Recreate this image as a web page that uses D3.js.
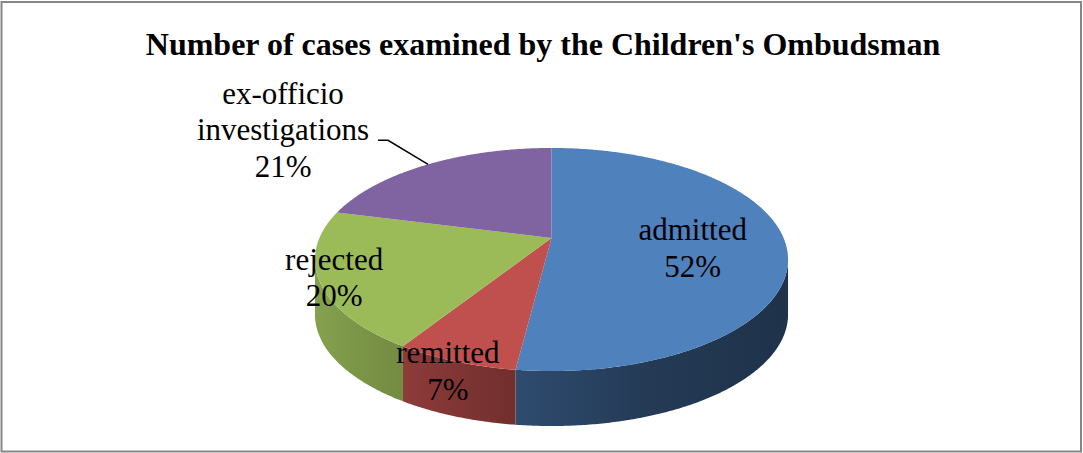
<!DOCTYPE html>
<html>
<head>
<meta charset="utf-8">
<script src="https://cdn.jsdelivr.net/npm/d3@7"></script>
<style>
  html, body { margin: 0; padding: 0; background: #fff; }
  svg { display: block; }
</style>
</head>
<body>
<svg id="chart" width="1083" height="453"></svg>
<script>
// ---- data ----
const title = "Number of cases examined by the Children's Ombudsman";
const categories = ["admitted", "remitted", "rejected", "ex-officio investigations"];
const values = [52, 7, 20, 21];
const labelNames = [["admitted"], ["remitted"], ["rejected"], ["ex-officio", "investigations"]];
const colors = ["#4f81bd", "#c0504d", "#9bbb59", "#8064a2"];

// ---- layout ----
const W = 1083, H = 453;
const svg = d3.select("#chart");
const serif = "'Times New Roman', 'Liberation Serif', serif";

svg.append("rect")
  .attr("x", 1.5).attr("y", 2).attr("width", W - 3.5).attr("height", H - 3.5)
  .attr("fill", "#fff").attr("stroke", "#868686").attr("stroke-width", 2);

svg.append("text")
  .attr("x", 543).attr("y", 55)
  .attr("text-anchor", "middle")
  .attr("font-family", serif).attr("font-weight", "bold").attr("font-size", 32)
  .text(title);

// perspective projection of the pie disc
const P = { cx: 551.5, cy: 238, a: 232.1, b: 107.4, k: 0.1928, depth: 55 };
function proj(theta, r) {
  const u = r * Math.sin(theta), v = r * Math.cos(theta);
  const w = 1 + P.k * v;
  return [P.cx + P.a * u / w, P.cy - P.b * v / w];
}

const pie = d3.pie().sort(null).value(d => d).startAngle(0).endAngle(2 * Math.PI);
const arcs = pie(values);
const total = d3.sum(values);
const pct = d3.format(".0%");

const thR = Math.acos(-P.k);            // right silhouette
const thL = 2 * Math.PI - thR;          // left silhouette

function arcPoints(a0, a1, r, dy) {
  const n = Math.max(2, Math.ceil((a1 - a0) / (Math.PI / 360)));
  const pts = [];
  for (let i = 0; i <= n; i++) {
    const t = a0 + (a1 - a0) * i / n;
    const p = proj(t, r);
    pts.push([p[0], p[1] + dy]);
  }
  return pts;
}

// gradients for sides
const defs = svg.append("defs");
const shadeStops = [[0, 0.86], [0.4355, 0.58], [0.708, 0.45], [1, 0.39]];
colors.forEach((c, i) => {
  const g = defs.append("linearGradient").attr("id", "side" + i)
    .attr("gradientUnits", "userSpaceOnUse")
    .attr("x1", P.cx - 237).attr("x2", P.cx + 237).attr("y1", 0).attr("y2", 0);
  const base = d3.rgb(c);
  shadeStops.forEach(([o, f]) => {
    g.append("stop").attr("offset", o)
      .attr("stop-color", d3.rgb(base.r * f, base.g * f, base.b * f).formatHex());
  });
});

const line = d3.line();
const gSides = svg.append("g");
const gTops = svg.append("g");

arcs.forEach((d, i) => {
  const s0 = Math.max(d.startAngle, thR), s1 = Math.min(d.endAngle, thL);
  if (s1 > s0) {
    const top = arcPoints(s0, s1, 1, 0);
    const bot = arcPoints(s0, s1, 1, P.depth).reverse();
    gSides.append("path")
      .attr("d", line(top.concat(bot)) + "Z")
      .attr("fill", `url(#side${i})`);
  }
  const pts = [proj(0, 0)].concat(arcPoints(d.startAngle, d.endAngle, 1, 0));
  gTops.append("path")
    .attr("d", line(pts) + "Z")
    .attr("fill", colors[i]);
});

// labels
const fs = 31, lh = 36.5;
const labelPos = [
  { r: 0.605, dy: -2 },
  { r: 1.063, dy: -8 },
  { r: 0.94, dy: -8 },
  null
];
const gLab = svg.append("g")
  .attr("font-family", serif).attr("font-size", fs).attr("fill", "#000")
  .attr("text-anchor", "middle");

arcs.forEach((d, i) => {
  const mid = (d.startAngle + d.endAngle) / 2;
  const lines = labelNames[i].concat([pct(values[i] / total)]);
  let x, y0;
  if (labelPos[i]) {
    const p = proj(mid, labelPos[i].r);
    x = p[0]; y0 = p[1] + labelPos[i].dy;
  } else {
    const end = proj(mid, 1);
    const elbow = [end[0] - 40, end[1] - 24];
    const start = [elbow[0] - 10, elbow[1]];
    svg.append("path")
      .attr("d", line([start, elbow, end]))
      .attr("fill", "none").attr("stroke", "#000").attr("stroke-width", 1.5);
    x = start[0] - 95;
    y0 = start[1] - lh * (labelNames[i].length - 1);
  }
  lines.forEach((t, j) => {
    gLab.append("text").attr("x", x).attr("y", y0 + j * lh).text(t);
  });
});
</script>
</body>
</html>
